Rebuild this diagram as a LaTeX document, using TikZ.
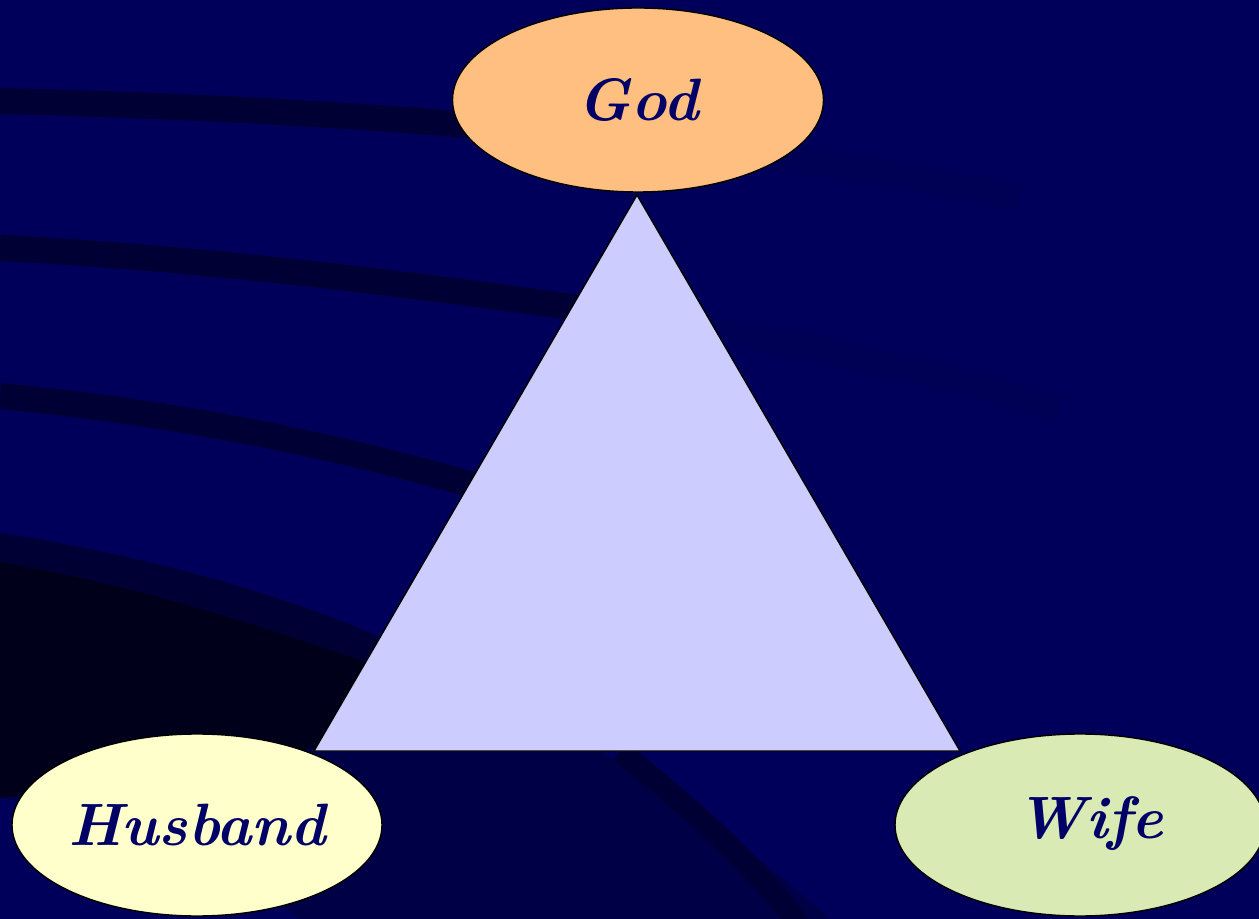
\documentclass[tikz,border=0pt]{standalone}
\usepackage{xcolor}
\usepackage{tikz}
\usetikzlibrary{shapes.geometric}

\definecolor{slidebg}{RGB}{0,0,90}
\definecolor{stripedark}{RGB}{0,0,52}
\definecolor{stripefaint}{RGB}{0,0,84}
\definecolor{bandmid}{RGB}{0,0,70}
\definecolor{cornerdark}{RGB}{0,0,26}
\definecolor{godfill}{RGB}{255,191,128}
\definecolor{husbandfill}{RGB}{255,255,204}
\definecolor{wifefill}{RGB}{217,234,181}
\definecolor{trianglefill}{RGB}{204,204,255}
\definecolor{labelnavy}{RGB}{0,0,102}

\begin{document}
\begin{tikzpicture}[
  oval/.style={ellipse, draw=black, thin, inner sep=0pt, minimum width=3.71cm, minimum height=1.84cm, text=labelnavy, font=\fontsize{17}{20}\selectfont\bfseries\itshape},
  stripe/.style={line width=0.26cm, stripedark},
  faintstripe/.style={line width=0.26cm, stripefaint}
]

% Background
\clip (0,0) rectangle (12.59,9.18);
\fill [slidebg] (-0.1,-0.1) rectangle (12.7,9.3);
\draw [stripe] (0,8.17) .. controls (2,8.12) and (3.5,8.03) .. (4.8,7.92);
\draw [faintstripe] (4.8,7.92) .. controls (6.5,7.8) and (8.5,7.55) .. (10.2,7.2);
\draw [stripe] (0,6.70) .. controls (2,6.6) and (4,6.35) .. (5.8,6.10);
\draw [faintstripe] (5.8,6.10) .. controls (7.5,5.85) and (9,5.55) .. (10.6,5.1);
\draw [stripe] (0,5.22) .. controls (1.8,5.05) and (3.5,4.7) .. (5.0,4.25);
\fill [bandmid] (0,3.85) .. controls (1.6,3.6) and (2.9,3.2) .. (3.75,2.83)
  .. controls (5.2,2.2) and (7,1.2) .. (8.4,-0.1) -- (0,-0.1) -- cycle;
\fill [stripedark] (0,3.85) .. controls (1.6,3.6) and (2.9,3.2) .. (3.75,2.83)
  .. controls (4.6,2.45) and (5.3,2.05) .. (5.9,1.7) -- (3.14,1.7) -- (0,1.7) -- cycle;
\fill [cornerdark] (0,3.56) .. controls (1.5,3.3) and (2.8,2.85) .. (3.6,2.58)
  .. controls (4.3,2.25) and (4.8,1.95) .. (5.3,1.72) -- (3.14,1.7)
  .. controls (2,1.45) and (1,1.3) .. (0,1.2) -- cycle;
\draw [stripe, line width=0.22cm] (6.2,1.67) .. controls (6.9,1.1) and (7.5,0.6) .. (8.1,-0.2);
\fill [slidebg] (0,-0.1) -- (0,1.2) .. controls (1.2,1.0) and (2.4,0.5) .. (3.1,-0.1) -- cycle;

% Triangle
\coordinate (apex) at (6.37,7.23);
\coordinate (baseleft) at (3.14,1.67);
\coordinate (baseright) at (9.60,1.67);
\filldraw [fill=trianglefill, draw=black, thin] (apex) -- (baseleft) -- (baseright) -- cycle;

% Ovals
\node (god) [oval, fill=godfill] at (6.38,8.18) {God};
\node (husband) [oval, fill=husbandfill, minimum width=3.70cm, minimum height=1.82cm] at (1.97,0.93) {Husband};
\node (wife) [oval, fill=wifefill, minimum width=3.70cm, minimum height=1.82cm] at (10.80,0.93) {\raisebox{0.15cm}{\hspace{0.2cm}Wife}};
\end{tikzpicture}
\end{document}
